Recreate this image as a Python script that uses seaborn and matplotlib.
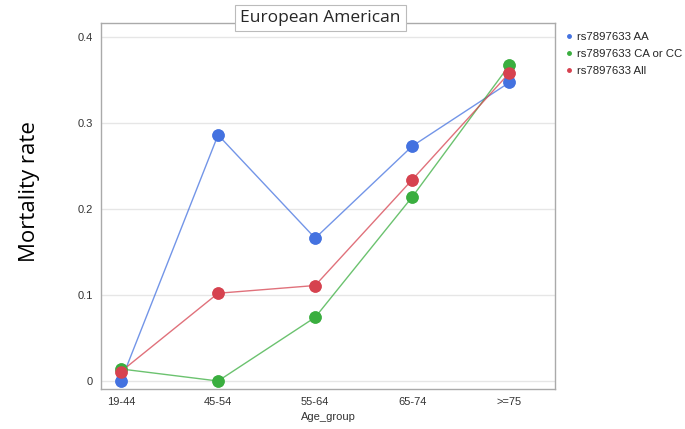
import matplotlib
matplotlib.use("Agg")
import matplotlib.pyplot as plt
import seaborn as sns
import pandas as pd

age_groups = ["19-44", "45-54", "55-64", "65-74", ">=75"]
aa = [0.0, 0.286, 0.166, 0.273, 0.347]
ca_cc = [0.014, 0.0, 0.074, 0.214, 0.367]
all_geno = [0.011, 0.102, 0.111, 0.234, 0.358]
series_names = ["rs7897633 AA", "rs7897633 CA or CC", "rs7897633 All"]

rows = []
for name, vals in zip(series_names, [aa, ca_cc, all_geno]):
    for i, v in enumerate(vals):
        rows.append({"pos": i, "Age_group": age_groups[i], "rate": v, "series": name})
df = pd.DataFrame(rows)

palette = {"rs7897633 AA": "#4472e0",
           "rs7897633 CA or CC": "#3aae3f",
           "rs7897633 All": "#d6424f"}

sns.set_style("white")
plt.rcParams['font.family'] = ['Liberation Sans', 'DejaVu Sans']

fig = plt.figure(figsize=(6.85, 4.29), dpi=100)
ax = fig.add_axes([0.1474, 0.0932, 0.6628, 0.853])

sns.lineplot(data=df, x="pos", y="rate", hue="series", palette=palette,
             marker="o", markersize=9, markeredgewidth=0, linewidth=1,
             alpha=1, ax=ax, legend=False)
for line in ax.lines:
    line.set_alpha(0.75)
# markers drawn again, fully opaque
for name in series_names:
    sub = df[df.series == name]
    ax.plot(sub.pos, sub.rate, "o", ms=9, mew=0, color=palette[name], zorder=4)

ax.set_xlim(-0.206, 4.47)
ax.set_ylim(-0.0093, 0.416)
ax.set_xticks(range(len(age_groups)))
ax.set_xticklabels(age_groups)
ax.set_yticks([0, 0.1, 0.2, 0.3, 0.4])
ax.set_yticklabels(["0", "0.1", "0.2", "0.3", "0.4"])
ax.tick_params(labelsize=8, colors="#333333", length=0, pad=6)
ax.yaxis.grid(True, color="#e6e6e6", linewidth=1)
for s in ax.spines.values():
    s.set_color("#aaaaaa")
    s.set_linewidth(1)

ax.set_xlabel("Age_group", fontsize=8, color="#333333", labelpad=3)
ax.set_ylabel("Mortality rate", fontsize=16, color="black",
              family=["Open Sans", "DejaVu Sans"])
ax.yaxis.set_label_coords(-0.135, 0.54)

fig.text(0.468, 0.958, "European American", ha="center", va="center",
         fontsize=12.5, family=["Open Sans", "DejaVu Sans"],
         bbox=dict(boxstyle="square,pad=0.3", fc="white", ec="#bbbbbb", lw=0.8))

# legend outside on the right
handles = [plt.Line2D([], [], marker="o", ls="", ms=2.5, color=palette[n]) for n in series_names]
fig.legend(handles, series_names, loc="upper left", bbox_to_anchor=(0.807, 0.95),
           frameon=False, fontsize=8.2, handletextpad=0.2, labelspacing=0.62,
           handlelength=1)

fig.savefig("out.png", dpi=100)
